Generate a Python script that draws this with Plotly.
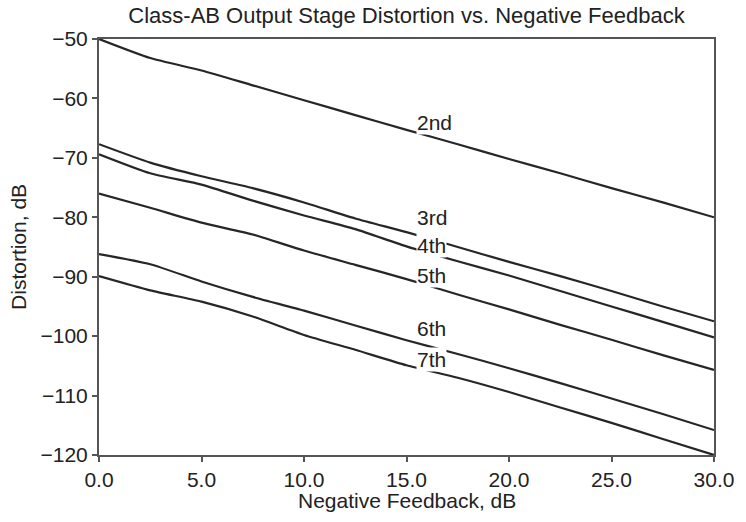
import plotly.graph_objects as go

feedback_db = [0, 2.5, 5, 7.5, 10, 12.5, 15, 17.5, 20, 22.5, 25, 27.5, 30]

h2 = [-50.0, -53.2, -55.3, -57.8, -60.3, -62.8, -65.3, -67.7, -70.2, -72.6, -75.1, -77.5, -80.0]
h3 = [-67.7, -70.8, -73.1, -75.1, -77.5, -80.2, -82.5, -85.0, -87.5, -89.9, -92.4, -95.0, -97.5]
h4 = [-69.4, -72.6, -74.5, -77.2, -79.7, -82.0, -84.9, -87.4, -89.8, -92.4, -95.0, -97.6, -100.2]
h5 = [-76.0, -78.4, -80.9, -82.9, -85.6, -88.0, -90.4, -93.0, -95.5, -98.1, -100.6, -103.2, -105.7]
h6 = [-86.2, -87.9, -90.8, -93.4, -95.7, -98.2, -100.7, -103.0, -105.4, -107.9, -110.5, -113.1, -115.8]
h7 = [-89.9, -92.3, -94.2, -96.7, -99.8, -102.3, -104.9, -107.0, -109.4, -112.0, -114.6, -117.3, -120.0]

series_names = ["2nd", "3rd", "4th", "5th", "6th", "7th"]
series_values = [h2, h3, h4, h5, h6, h7]

label_x = 15.45
label_y = [-64.0, -80.0, -84.7, -89.8, -98.65, -103.9]

x_ticks = [0, 5, 10, 15, 20, 25, 30]
x_tick_text = ["0.0", "5.0", "10.0", "15.0", "20.0", "25.0", "30.0"]
y_ticks = [-50, -60, -70, -80, -90, -100, -110, -120]
y_tick_text = ["\u221250", "\u221260", "\u221270", "\u221280", "\u221290", "\u2212100", "\u2212110", "\u2212120"]

FONT = "Liberation Sans, Arial, sans-serif"
TXT = "#222222"
FS = 21

fig = go.Figure()
for name, vals in zip(series_names, series_values):
    fig.add_trace(go.Scatter(
        x=feedback_db, y=vals, mode="lines", name=name,
        line=dict(color="#262626", width=2.2, shape="spline", smoothing=0.6),
        showlegend=False, hoverinfo="skip",
    ))

for name, ly in zip(series_names, label_y):
    fig.add_annotation(
        x=label_x, y=ly, text=name, showarrow=False,
        xanchor="left", yanchor="middle",
        font=dict(family=FONT, size=FS, color=TXT),
        bgcolor="white", borderpad=0,
    )

# axis titles as annotations for precise placement
fig.add_annotation(
    x=0.5, y=-(500 - 455) / 416, xref="paper", yref="paper",
    text="Negative Feedback, dB", showarrow=False,
    xanchor="center", yanchor="middle",
    font=dict(family=FONT, size=FS, color=TXT),
)
fig.add_annotation(
    x=-(99 - 17) / 622, y=0.5, xref="paper", yref="paper",
    text="Distortion, dB", showarrow=False, textangle=-90,
    xanchor="center", yanchor="middle",
    font=dict(family=FONT, size=FS, color=TXT),
)

fig.update_layout(
    width=746, height=522,
    margin=dict(l=99, r=25, t=39, b=67),
    paper_bgcolor="white", plot_bgcolor="white",
    font=dict(family=FONT, size=FS, color=TXT),
    title=dict(
        text="Class-AB Output Stage Distortion vs. Negative Feedback",
        x=0.5, xref="paper", xanchor="center",
        y=1 - 15 / 522, yref="container", yanchor="middle",
        font=dict(family=FONT, size=22, color=TXT),
    ),
)

fig.update_xaxes(
    range=[0, 30], tickvals=x_ticks, ticktext=x_tick_text,
    showgrid=False, zeroline=False,
    showline=True, linecolor="#555555", linewidth=2, mirror=True,
    ticks="outside", ticklen=5, tickwidth=2, tickcolor="#555555",
    tickfont=dict(family=FONT, size=FS, color=TXT),
)
fig.update_yaxes(
    range=[-120, -50], tickvals=y_ticks, ticktext=y_tick_text,
    showgrid=False, zeroline=False,
    showline=True, linecolor="#555555", linewidth=2, mirror=True,
    ticks="outside", ticklen=5, tickwidth=2, tickcolor="#555555",
    tickfont=dict(family=FONT, size=FS, color=TXT),
)

fig.write_html(
    "out.html",
    config={"displayModeBar": False},
    post_script="document.body.style.margin='0';document.body.style.padding='0';",
)
